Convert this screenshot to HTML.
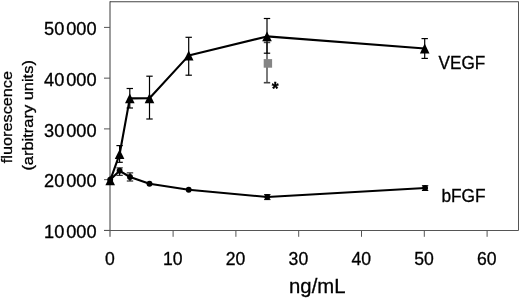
<!DOCTYPE html>
<html><head><meta charset="utf-8"><style>
html,body{margin:0;padding:0;background:#fff;}
body{width:520px;height:298px;overflow:hidden;}
svg{display:block;}
text{font-family:"Liberation Sans",Arial,sans-serif;fill:#000;stroke:#000;stroke-width:0.3px;}
</style></head><body>
<svg width="520" height="298" viewBox="0 0 520 298">
<rect width="520" height="298" fill="#fff"/>
<line x1="110" y1="1.8" x2="518.5" y2="1.8" stroke="#444" stroke-width="1.1"/>
<line x1="518.5" y1="1.5" x2="518.5" y2="230.5" stroke="#555" stroke-width="1"/>
<line x1="110" y1="1.3" x2="110" y2="236.8" stroke="#3a3a3a" stroke-width="1"/>
<line x1="104" y1="230.5" x2="518.5" y2="230.5" stroke="#555" stroke-width="1.1"/>
<line x1="104" y1="230.40" x2="110" y2="230.40" stroke="#555" stroke-width="1"/>
<line x1="104" y1="179.65" x2="110" y2="179.65" stroke="#555" stroke-width="1"/>
<line x1="104" y1="128.90" x2="110" y2="128.90" stroke="#555" stroke-width="1"/>
<line x1="104" y1="78.15" x2="110" y2="78.15" stroke="#555" stroke-width="1"/>
<line x1="104" y1="27.40" x2="110" y2="27.40" stroke="#555" stroke-width="1"/>
<line x1="173.10" y1="230.4" x2="173.10" y2="236.8" stroke="#555" stroke-width="1"/>
<line x1="235.90" y1="230.4" x2="235.90" y2="236.8" stroke="#555" stroke-width="1"/>
<line x1="298.70" y1="230.4" x2="298.70" y2="236.8" stroke="#555" stroke-width="1"/>
<line x1="361.50" y1="230.4" x2="361.50" y2="236.8" stroke="#555" stroke-width="1"/>
<line x1="424.30" y1="230.4" x2="424.30" y2="236.8" stroke="#555" stroke-width="1"/>
<line x1="487.10" y1="230.4" x2="487.10" y2="236.8" stroke="#555" stroke-width="1"/>
<line x1="267.00" y1="42.40" x2="267.00" y2="82.70" stroke="#444" stroke-width="1.4"/><line x1="263.80" y1="42.40" x2="270.20" y2="42.40" stroke="#444" stroke-width="1.6"/><line x1="263.80" y1="82.70" x2="270.20" y2="82.70" stroke="#444" stroke-width="1.6"/>
<rect x="263.7" y="59.1" width="8.4" height="8.6" fill="#858585"/>
<line x1="119.60" y1="167.90" x2="119.60" y2="175.30" stroke="#000" stroke-width="1.2"/><line x1="116.40" y1="167.90" x2="122.80" y2="167.90" stroke="#000" stroke-width="1.0"/><line x1="116.40" y1="175.30" x2="122.80" y2="175.30" stroke="#000" stroke-width="1.0"/>
<line x1="130.00" y1="172.90" x2="130.00" y2="181.00" stroke="#000" stroke-width="1.2"/><line x1="126.80" y1="172.90" x2="133.20" y2="172.90" stroke="#000" stroke-width="1.0"/><line x1="126.80" y1="181.00" x2="133.20" y2="181.00" stroke="#000" stroke-width="1.0"/>
<line x1="267.30" y1="194.60" x2="267.30" y2="199.60" stroke="#000" stroke-width="1.2"/><line x1="264.10" y1="194.60" x2="270.50" y2="194.60" stroke="#000" stroke-width="1.0"/><line x1="264.10" y1="199.60" x2="270.50" y2="199.60" stroke="#000" stroke-width="1.0"/>
<line x1="425.10" y1="185.70" x2="425.10" y2="190.50" stroke="#000" stroke-width="1.2"/><line x1="421.90" y1="185.70" x2="428.30" y2="185.70" stroke="#000" stroke-width="1.0"/><line x1="421.90" y1="190.50" x2="428.30" y2="190.50" stroke="#000" stroke-width="1.0"/>
<polyline points="110.20,179.80 119.60,170.80 130.00,177.00 149.50,183.80 188.70,189.70 267.30,197.00 425.10,188.00" fill="none" stroke="#000" stroke-width="2.1" stroke-linejoin="round"/>
<circle cx="110.20" cy="179.80" r="2.95" fill="#000"/>
<circle cx="119.60" cy="170.80" r="2.95" fill="#000"/>
<circle cx="130.00" cy="177.00" r="2.95" fill="#000"/>
<circle cx="149.50" cy="183.80" r="2.95" fill="#000"/>
<circle cx="188.70" cy="189.70" r="2.95" fill="#000"/>
<circle cx="267.30" cy="197.00" r="2.95" fill="#000"/>
<circle cx="425.10" cy="188.00" r="2.95" fill="#000"/>
<line x1="119.60" y1="145.60" x2="119.60" y2="162.30" stroke="#000" stroke-width="1.2"/><line x1="116.40" y1="145.60" x2="122.80" y2="145.60" stroke="#000" stroke-width="1.2"/><line x1="116.40" y1="162.30" x2="122.80" y2="162.30" stroke="#000" stroke-width="1.2"/>
<line x1="129.80" y1="88.50" x2="129.80" y2="108.00" stroke="#000" stroke-width="1.2"/><line x1="126.60" y1="88.50" x2="133.00" y2="88.50" stroke="#000" stroke-width="1.2"/><line x1="126.60" y1="108.00" x2="133.00" y2="108.00" stroke="#000" stroke-width="1.2"/>
<line x1="149.50" y1="76.20" x2="149.50" y2="119.00" stroke="#000" stroke-width="1.2"/><line x1="146.30" y1="76.20" x2="152.70" y2="76.20" stroke="#000" stroke-width="1.2"/><line x1="146.30" y1="119.00" x2="152.70" y2="119.00" stroke="#000" stroke-width="1.2"/>
<line x1="188.70" y1="37.30" x2="188.70" y2="75.20" stroke="#000" stroke-width="1.2"/><line x1="185.50" y1="37.30" x2="191.90" y2="37.30" stroke="#000" stroke-width="1.2"/><line x1="185.50" y1="75.20" x2="191.90" y2="75.20" stroke="#000" stroke-width="1.2"/>
<line x1="267.00" y1="18.50" x2="267.00" y2="53.20" stroke="#000" stroke-width="1.2"/><line x1="263.80" y1="18.50" x2="270.20" y2="18.50" stroke="#000" stroke-width="1.2"/><line x1="263.80" y1="53.20" x2="270.20" y2="53.20" stroke="#000" stroke-width="1.2"/>
<line x1="424.70" y1="38.60" x2="424.70" y2="58.40" stroke="#000" stroke-width="1.2"/><line x1="421.50" y1="38.60" x2="427.90" y2="38.60" stroke="#000" stroke-width="1.2"/><line x1="421.50" y1="58.40" x2="427.90" y2="58.40" stroke="#000" stroke-width="1.2"/>
<polyline points="110.20,180.40 119.60,154.20 129.80,98.40 149.50,98.30 188.70,55.60 267.00,36.40 424.70,48.50" fill="none" stroke="#000" stroke-width="2.1" stroke-linejoin="round"/>
<polygon points="110.20,175.40 115.00,185.30 105.40,185.30" fill="#000"/>
<polygon points="119.60,149.20 124.40,159.10 114.80,159.10" fill="#000"/>
<polygon points="129.80,93.40 134.60,103.30 125.00,103.30" fill="#000"/>
<polygon points="149.50,93.30 154.30,103.20 144.70,103.20" fill="#000"/>
<polygon points="188.70,50.60 193.50,60.50 183.90,60.50" fill="#000"/>
<polygon points="267.00,31.40 271.80,41.30 262.20,41.30" fill="#000"/>
<polygon points="424.70,43.50 429.50,53.40 419.90,53.40" fill="#000"/>
<g>
<text transform="translate(44.1,238.10) scale(1.04,1)" font-size="17.5">10&#8202;<tspan dx="0.37">000</tspan></text>
<text transform="translate(44.1,187.35) scale(1.04,1)" font-size="17.5">20&#8202;<tspan dx="0.37">000</tspan></text>
<text transform="translate(44.1,136.60) scale(1.04,1)" font-size="17.5">30&#8202;<tspan dx="0.37">000</tspan></text>
<text transform="translate(44.1,85.85) scale(1.04,1)" font-size="17.5">40&#8202;<tspan dx="0.37">000</tspan></text>
<text transform="translate(44.1,35.10) scale(1.04,1)" font-size="17.5">50&#8202;<tspan dx="0.37">000</tspan></text>
<text x="110.00" y="264.6" text-anchor="middle" font-size="17.6">0</text>
<text x="172.80" y="264.6" text-anchor="middle" font-size="17.6">10</text>
<text x="235.60" y="264.6" text-anchor="middle" font-size="17.6">20</text>
<text x="298.40" y="264.6" text-anchor="middle" font-size="17.6">30</text>
<text x="361.20" y="264.6" text-anchor="middle" font-size="17.6">40</text>
<text x="424.00" y="264.6" text-anchor="middle" font-size="17.6">50</text>
<text x="486.80" y="264.6" text-anchor="middle" font-size="17.6">60</text>

<text transform="translate(438.6,69) scale(0.975,1)" font-size="17.6">VEGF</text>
<text transform="translate(441.4,201.6) scale(0.985,1)" font-size="17.6">bFGF</text>
<text x="289.1" y="292.7" font-size="20.3">ng/mL</text>
<text x="271.7" y="95.1" font-size="17.6" font-weight="bold">*</text>
</g>
<text transform="translate(12.2,163.2) rotate(-90) scale(1.1,1)" font-size="14.8">fluorescence</text>
<text transform="translate(32.7,170.6) rotate(-90) scale(1.06,1)" font-size="15.5">(arbitrary units)</text>
</svg>
</body></html>
